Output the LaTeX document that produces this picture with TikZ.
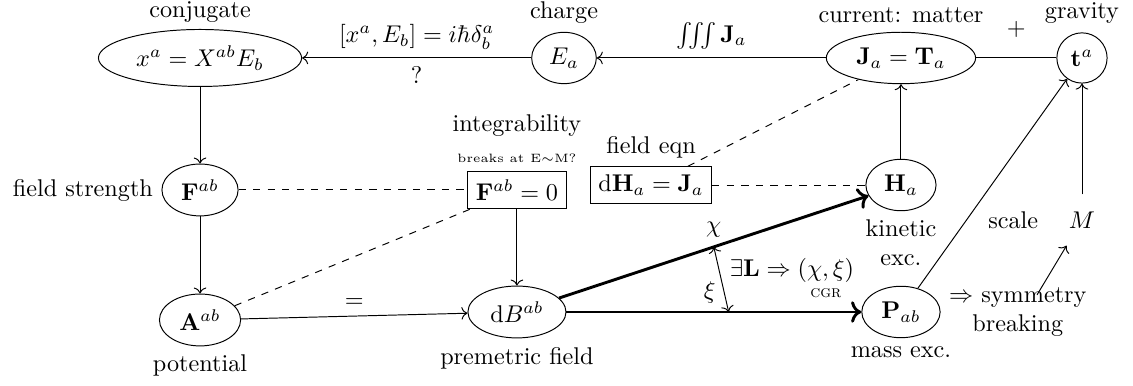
\documentclass[tikz,border=0pt]{standalone}
\usepackage{amsmath}
\usepackage{tikz}
\usetikzlibrary{shapes.geometric, arrows.meta, positioning, calc}

\begin{document}
\begin{tikzpicture}[
  state/.style={ellipse, draw},
  eqn/.style={rectangle, draw},
  arrow/.style={->},
  flow/.style={->, very thick},
  link/.style={dashed},
]
\useasboundingbox (0,0) rectangle (16.455,-5.606);

% top row
\node[state] (x) at (2.905,-0.842) {$x^a = X^{ab}E_b$};
\node[state] (e) at (8.191,-0.842) {$E_a$};
\node[state] (j) at (13.085,-0.842) {$\mathbf{J}_a = \mathbf{T}_a$};
\node[circle, draw] (t) at (15.714,-0.842) {$\mathbf{t}^a$};

% middle row
\node[state] (f) at (2.905,-2.759) {$\mathbf{F}^{ab}$};
\node[eqn] (f0) at (7.508,-2.759) {$\mathbf{F}^{ab} = 0$};
\node[eqn] (dh) at (9.455,-2.687) {$\mathrm{d}\mathbf{H}_a = \mathbf{J}_a$};
\node[state] (h) at (13.085,-2.687) {$\mathbf{H}_a$};
\node[inner sep=7pt] (m) at (15.714,-3.195) {$M$};

% bottom row
\node[state] (a) at (2.905,-4.647) {$\mathbf{A}^{ab}$};
\node[state] (db) at (7.508,-4.531) {$\mathrm{d}B^{ab}$};
\node[state] (p) at (13.085,-4.531) {$\mathbf{P}_{ab}$};
\node[right=0pt of p, align=center] (sym) {$\Rightarrow$ symmetry\\breaking};
\coordinate (brk) at ($(sym.center)+(0.28,0.25)$);

% labels
\node[above=-1pt of x] (lconj) {conjugate};
\node[above=0pt of e] (lcharge) {charge};
\node[above=0pt of j] (lcur) {current: matter};
\node[above=0pt of t] (lgrav) {gravity};
\node[left=0pt of f] (lstr) {field strength};
\node[above=0pt of f0, font=\tiny] (lbreak) {breaks at E$\sim$M?};
\node[above=0pt of lbreak] (linteg) {integrability};
\node[above=0pt of dh] (leqn) {field eqn};
\node[below=0pt of h, align=center] (lkin) {kinetic\\exc.};
\node[left=2pt of m] (lscale) {scale};
\node[below=0pt of a] (lpot) {potential};
\node[below=0pt of db] (lpre) {premetric field};
\node[below=0pt of p] (lmass) {mass exc.};

% connectors
\draw[arrow] (e) -- node[above] {$[x^a, E_b] = i\hbar\delta^a_b$} node[below] {?} (x);
\draw[arrow] (j) -- node[above] {$\iiint \mathbf{J}_a$} (e);
\draw (j) -- node[above=5pt] {$+$} (t);
\draw[arrow] (x) -- (f);
\draw[arrow] (f) -- (a);
\draw[link] (f) -- (f0);
\draw[link] (a) -- (f0);
\draw[arrow] (f0) -- (db);
\draw[arrow] (a) -- node[above] {$=$} (db);
\draw[link] (dh) -- (h);
\draw[link] (dh) -- (j);
\draw[arrow] (h) -- (j);
\draw[flow] (db) -- coordinate[pos=0.5] (chi) node[pos=0.5, above] {$\chi$} (h);
\draw[flow] (db) -- coordinate[pos=0.55] (xi) (p);
\draw[<->] (chi) -- node[left, pos=0.7] {$\xi$}
  node[right] {$\exists\mathbf{L}\Rightarrow\underset{\text{\textsc{cgr}}}{(\chi,\xi)}$} (xi);
\draw[arrow] (p) -- (t);
\draw[arrow] (m) -- (t);
\draw[arrow] (brk) -- (m);

\end{tikzpicture}
\end{document}
